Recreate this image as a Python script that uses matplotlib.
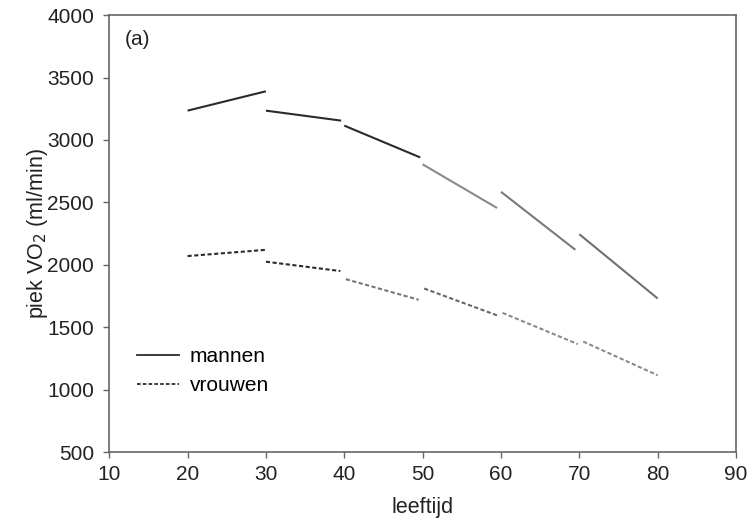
import matplotlib.pyplot as plt
import numpy as np

plt.rcParams['font.family'] = ['Liberation Sans', 'DejaVu Sans']

# leeftijdsgroepen (begin- en eindpunt van elk segment)
age_start = [20, 30, 40, 50, 60, 70]
age_end = [30, 39.6, 49.7, 59.5, 69.5, 80]

# piek VO2 mannen (ml/min), begin en eind van elk segment
men_start = [3235, 3235, 3115, 2805, 2585, 2245]
men_end = [3390, 3155, 2860, 2455, 2120, 1730]
men_colors = ['#2b2b2b', '#2b2b2b', '#2b2b2b', '#8a8a8a', '#7a7a7a', '#707070']

# piek VO2 vrouwen (ml/min)
women_age_start = [20, 30, 40.2, 50.2, 60.2, 70.5]
women_age_end = [30, 39.5, 49.5, 59.5, 69.8, 80]
women_start = [2070, 2025, 1885, 1810, 1615, 1385]
women_end = [2120, 1950, 1720, 1595, 1365, 1115]
women_colors = ['#2b2b2b', '#2b2b2b', '#777777', '#666666', '#8a8a8a', '#8a8a8a']

fig = plt.figure(figsize=(7.48, 5.22), dpi=100)
ax = fig.add_axes([0.146, 0.134, 0.838, 0.837])

for i in range(len(age_start)):
    ax.plot([age_start[i], age_end[i]], [men_start[i], men_end[i]],
            color=men_colors[i], lw=1.5, solid_capstyle='butt')
for i in range(len(women_age_start)):
    ax.plot([women_age_start[i], women_age_end[i]], [women_start[i], women_end[i]],
            color=women_colors[i], lw=1.5, linestyle=(0, (2, 1.2)))

# legenda
ax.plot([], [], color='#2b2b2b', lw=1.3, label='mannen')
ax.plot([], [], color='#2b2b2b', lw=1.3, linestyle=(0, (2, 1.2)), label='vrouwen')
ax.legend(loc='lower left', bbox_to_anchor=(0.015, 0.087), frameon=False,
          fontsize=15, handlelength=2.0, handletextpad=0.5, labelspacing=0.5)

ax.text(0.025, 0.945, '(a)', transform=ax.transAxes, fontsize=15,
        va='center', ha='left', color='#222222')

ax.set_xlim(10, 90)
ax.set_ylim(500, 4000)
ax.set_xticks(np.arange(10, 91, 10))
ax.set_yticks(np.arange(500, 4001, 500))
ax.tick_params(direction='out', length=4, width=1, color='#666666',
               labelsize=15, labelcolor='#222222')
ax.tick_params(axis='y', pad=7)
ax.tick_params(axis='x', pad=5)
for s in ax.spines.values():
    s.set_color('#666666')
    s.set_linewidth(1.2)

ax.set_xlabel('leeftijd', fontsize=15.5, color='#222222', labelpad=10)
ax.set_ylabel('piek VO$_2$ (ml/min)', fontsize=15.5, color='#222222', labelpad=-2)

fig.savefig('out.png', dpi=100)
